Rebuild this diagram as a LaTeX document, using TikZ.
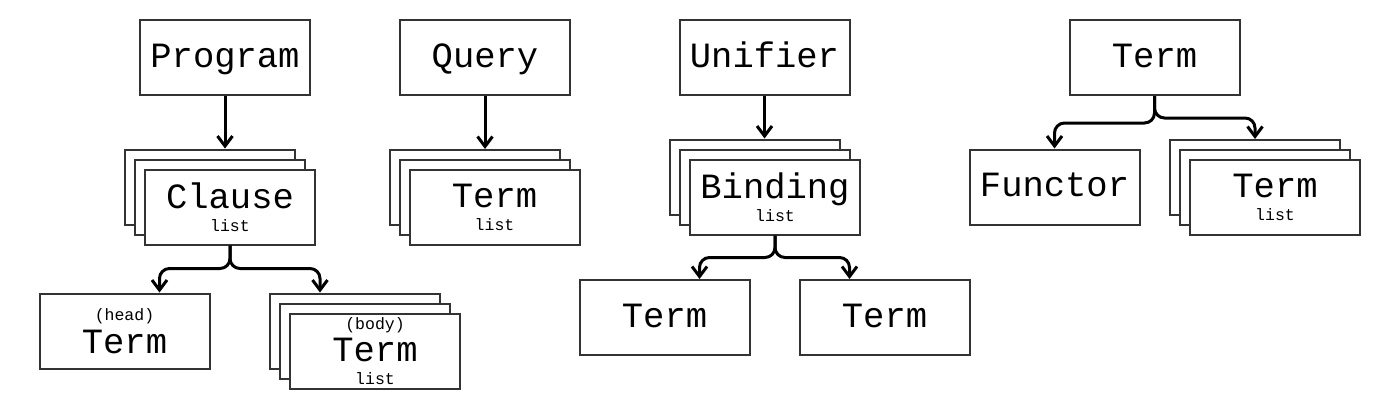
\documentclass[tikz,border=0pt]{standalone}
\usepackage{fontspec}
\setmonofont{Liberation Mono}
\usetikzlibrary{calc,arrows.meta}
\def\bigtt{\ttfamily\fontsize{35.5}{23}\selectfont}
\def\smalltt{\ttfamily\fontsize{16.5}{16}\selectfont}
\def\stacked(#1)(#2,#3)#4{%
  \node[box] (#1-b) at (#2-20,#3-20) {};
  \node[box] (#1-m) at (#2-10,#3-10) {};
  \node[box] (#1) at (#2,#3) {#4};}

\begin{document}
\begin{tikzpicture}[x=1pt,y=-1pt,
    box/.style={draw=black!80, line width=2pt, fill=white, inner sep=0pt,
      minimum width=170pt, minimum height=75pt, align=center, font=\bigtt},
    word/.style={box, text height=25pt, text depth=6pt},
    link/.style={line width=3pt, rounded corners=10pt,
      -{Straight Barb[length=10pt,width=15pt]}}]
  \useasboundingbox (0,0) rectangle (1380,408);

  %%%%% top row %%%%%
  \node[word] (prog) at (225,57.5) {Program};
  \node[word] (qry) at (485,57.5) {Query};
  \node[word] (unif) at (764.5,57.5) {Unifier};
  \node[word] (term) at (1154.5,57.5) {Term};

  %%%%% lists %%%%%
  \stacked(cls)(230,207){Clause\\{\smalltt list}}
  \stacked(qtl)(494.5,207.5){Term\\{\smalltt list}}
  \stacked(bnd)(775,197){Binding\\{\smalltt list}}
  \stacked(arg)(1275,197.5){Term\\{\smalltt list}}

  %%%%% leaves %%%%%
  \node[box] (head) at (124.5,331) {{\smalltt (head)}\\[5pt]Term};
  \stacked(body)(375,351){{\smalltt (body)}\\[5pt]Term\\{\smalltt list}}
  \node[word] (lhs) at (664.5,317.5) {Term};
  \node[word] (rhs) at (884.5,317.5) {Term};
  \node[word] (fun) at (1054.5,187) {Functor};

  %%%%% links %%%%%
  \draw[link] (prog.south) -- (prog.south |- cls-b.north);
  \draw[link] (qry.south) -- (qry.south |- qtl-b.north);
  \draw[link] (unif.south) -- (unif.south |- bnd-b.north);

  \draw[link] (cls.south) -- ++(0,23) -| ($(head.north)+(35,0)$);
  \draw[link] (cls.south) -- ++(0,23) -| ($(body-b.north)+(-35,0)$);

  \draw[link] (bnd.south) -- ++(0,22) -| ($(lhs.north)+(35,0)$);
  \draw[link] (bnd.south) -- ++(0,22) -| ($(rhs.north)+(-35,0)$);

  \draw[link] (term.south) -- ++(0,27) -| (fun.north);
  \draw[link] (term.south) -- ++(0,22) -| (arg-b.north);
\end{tikzpicture}
\end{document}
